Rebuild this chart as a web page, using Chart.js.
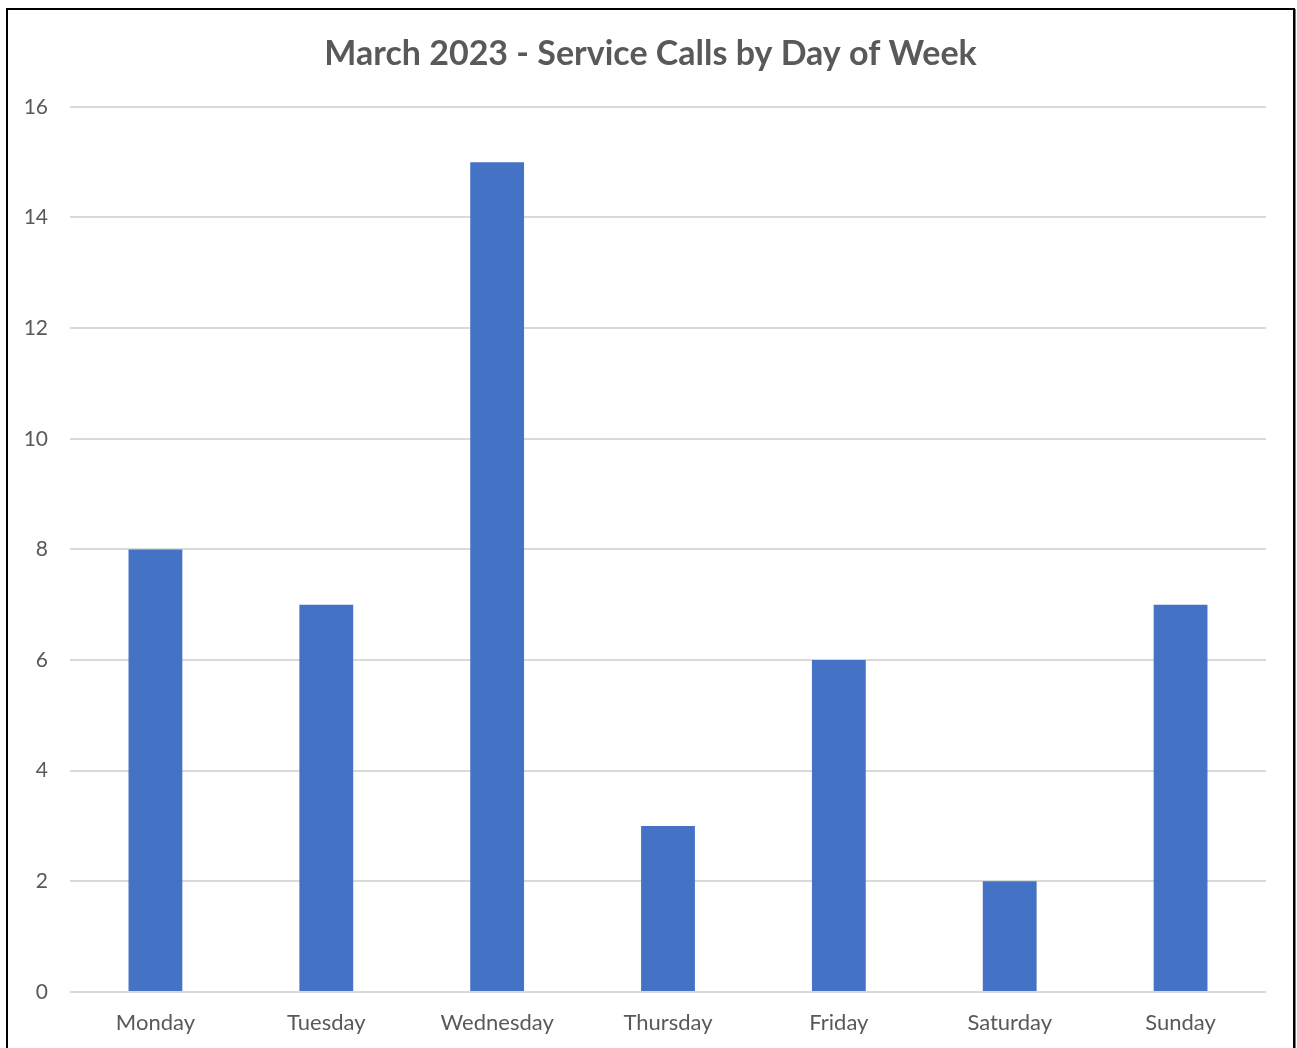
<!DOCTYPE html>
<html>
<head>
<meta charset="utf-8">
<script src="https://cdn.jsdelivr.net/npm/chart.js@4"></script>
<style>
  html, body { margin: 0; padding: 0; background: #fff; overflow: hidden; }
  #frame {
    position: absolute; left: 6px; top: 8px;
    width: 1285px; height: 1060px;
    border: 2px solid #000;
    box-shadow: 1px 1px 0 #777;
    background: #fff;
  }
  #canva1 { position: absolute; left: 0; top: 0; }
</style>
</head>
<body>
<div id="frame"><canvas id="canva1" width="1285" height="1040"></canvas></div>
<script>
const Days = ['Monday', 'Tuesday', 'Wednesday', 'Thursday', 'Friday', 'Saturday', 'Sunday']
const Calls = [8, 7, 15, 3, 6, 2, 7]
const yTicks = [0, 2, 4, 6, 8, 10, 12, 14, 16]

const textGrey = '#595959'
const fontFamily = 'Lato, "Open Sans", sans-serif'

const ctx1 = document.getElementById('canva1').getContext('2d');
const myChart = new Chart(ctx1, {
    type: 'bar',
    data: {
        labels: Days,
        datasets: [{
            label: 'Service Calls',
            data: Calls,
            backgroundColor: '#4472C4',
            categoryPercentage: 1,
            barPercentage: 0.315,
        }]
    },
    options: {
        responsive: false,
        animation: false,
        layout: {
            padding: 0
        },
        scales: {
            y: {
                min: yTicks[0],
                max: yTicks[yTicks.length - 1],
                ticks: {
                    stepSize: 2,
                    color: textGrey,
                    padding: 22,
                    font: { family: fontFamily, size: 21 }
                },
                grid: { color: '#d9d9d9', lineWidth: 2, drawTicks: false },
                border: { display: false },
                afterFit: function (scale) { scale.width = 62; }
            },
            // empty spacer on the right so the plot ends short of the frame
            yRight: {
                position: 'right',
                ticks: { display: false },
                grid: { display: false, drawTicks: false },
                border: { display: false },
                afterFit: function (scale) { scale.width = 27; }
            },
            x: {
                ticks: {
                    color: textGrey,
                    padding: 18,
                    font: { family: fontFamily, size: 22 }
                },
                grid: { display: false, drawTicks: false },
                border: { display: false },
                afterFit: function (scale) { scale.height = 58; }
            }
        },
        plugins: {
            legend: { display: false },
            tooltip: { enabled: false },
            title: {
                display: true,
                text: 'March 2023 - Service Calls by Day of Week',
                color: textGrey,
                font: { family: fontFamily, size: 34, weight: 'bold', lineHeight: 1.2 },
                padding: { top: 24, bottom: 32 }
            }
        }
    }
});
</script>
</body>
</html>
